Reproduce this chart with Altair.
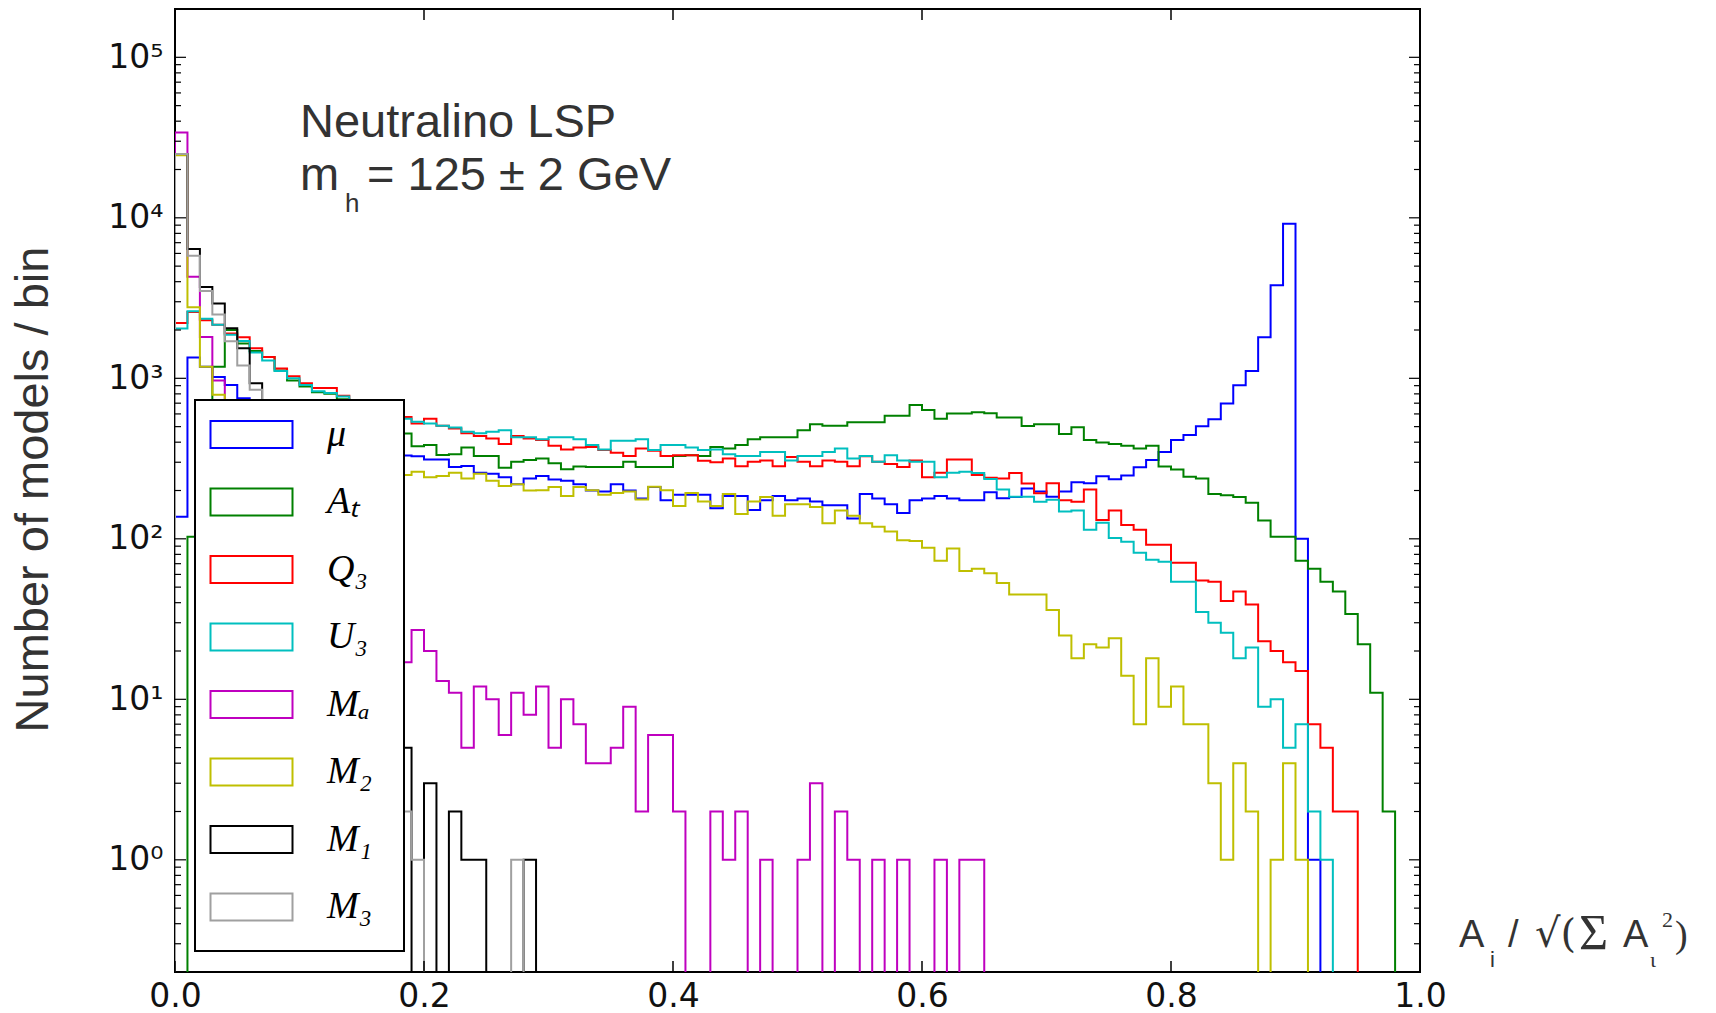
import altair as alt
import pandas as pd

# ---------------- data ----------------
series_names = ["μ", "Aₜ", "Q₃", "U₃", "Mₐ", "M₂", "M₁", "M₃"]
series_colors = ["#0000ff", "#008000", "#ff0000", "#00bfbf",
                 "#bf00bf", "#bfbf00", "#000000", "#a0a0a0"]

n_bins = 100
bin_width = 0.01

mu = [137, 1350, 1180, 1020, 910, 750, 680, 620, 570, 530,
      500, 470, 450, 430, 410, 390, 370, 350, 330, 327,
      312, 312, 280, 284, 258, 254, 242, 219, 238, 246,
      234, 230, 219, 200, 197, 219, 200, 178, 210, 174,
      188, 188, 188, 155, 185, 185, 151, 174, 185, 174,
      178, 171, 162, 162, 134, 190, 178, 164, 145, 174,
      178, 185, 178, 174, 174, 195, 179, 182, 206, 197,
      183, 197, 225, 222, 245, 235, 248, 279, 310, 348,
      412, 443, 503, 555, 697, 905, 1110, 1800, 3800, 9200,
      100, 1, 0, 0, 0, 0, 0, 0, 0, 0]

a_t = [0, 103, 500, 1180, 2000, 1650, 1480, 1360, 1120, 970,
       890, 820, 800, 740, 680, 620, 560, 500, 453, 378,
       384, 333, 336, 371, 328, 328, 277, 302, 310, 317,
       296, 271, 282, 280, 280, 280, 302, 280, 280, 280,
       328, 332, 328, 373, 366, 384, 417, 429, 429, 429,
       475, 518, 506, 506, 533, 533, 533, 585, 585, 682,
       634, 560, 603, 603, 615, 605, 570, 570, 505, 518,
       518, 450, 496, 412, 398, 390, 380, 366, 380, 282,
       270, 244, 238, 190, 187, 182, 168, 130, 103, 103,
       73, 65, 54, 47, 34, 22, 11, 2, 0, 0]

q_3 = [2210, 2590, 2300, 2160, 1900, 1800, 1540, 1360, 1150, 1030,
       930, 870, 870, 780, 720, 680, 640, 610, 575, 523,
       560, 506, 487, 454, 437, 422, 390, 437, 422, 412,
       380, 360, 370, 373, 357, 344, 328, 366, 354, 328,
       332, 332, 306, 300, 317, 283, 302, 308, 283, 323,
       302, 283, 308, 302, 283, 327, 302, 292, 280, 308,
       242, 258, 312, 312, 250, 240, 238, 257, 221, 192,
       222, 174, 170, 203, 131, 150, 122, 114, 92, 92,
       71, 71, 55, 54, 41, 47, 39, 23, 20, 17,
       15, 7, 5, 2, 2, 0, 0, 0, 0, 0]

u_3 = [2040, 2620, 2350, 2160, 1870, 1710, 1450, 1290, 1110, 1000,
       910, 830, 810, 770, 720, 670, 630, 590, 560, 537,
       523, 506, 494, 465, 454, 465, 475, 429, 429, 417,
       429, 429, 417, 384, 360, 408, 408, 417, 357, 384,
       384, 370, 357, 360, 336, 328, 328, 347, 347, 308,
       328, 328, 347, 366, 317, 328, 302, 332, 308, 302,
       302, 242, 258, 262, 257, 236, 203, 183, 183, 170,
       175, 148, 150, 114, 126, 101, 96, 82, 74, 72,
       54, 54, 35, 30, 26, 18, 21, 9, 10, 5,
       7, 2, 1, 0, 0, 0, 0, 0, 0, 0]

m_a = [34000, 4300, 1810, 970, 600, 380, 250, 170, 120, 90,
       70, 55, 45, 38, 32, 27, 22, 19, 17, 27,
       20, 13, 11, 5, 12, 10, 6, 11, 8, 12,
       5, 10, 7, 4, 4, 5, 9, 2, 6, 6,
       2, 0, 0, 2, 1, 2, 0, 1, 0, 0,
       1, 3, 0, 2, 1, 0, 1, 0, 1, 0,
       0, 1, 0, 1, 1, 0, 0, 0, 0, 0,
       0, 0, 0, 0, 0, 0, 0, 0, 0, 0,
       0, 0, 0, 0, 0, 0, 0, 0, 0, 0,
       0, 0, 0, 0, 0, 0, 0, 0, 0, 0]

m_2 = [24500, 2770, 1180, 790, 650, 560, 500, 450, 420, 390,
       360, 340, 320, 300, 290, 280, 270, 260, 250, 262,
       242, 246, 258, 238, 254, 230, 213, 219, 200, 201,
       210, 185, 210, 201, 188, 193, 197, 176, 211, 201,
       160, 193, 171, 160, 190, 143, 171, 182, 139, 164,
       164, 158, 125, 150, 139, 125, 119, 111, 98, 97,
       88, 73, 87, 63, 65, 61, 53, 45, 45, 45,
       36, 25, 18, 22, 21, 24, 14, 7, 18, 9,
       12, 7, 7, 3, 1, 4, 2, 0, 1, 4,
       1, 0, 0, 0, 0, 0, 0, 0, 0, 0]

m_1 = [25000, 6400, 3700, 2920, 2050, 1540, 930, 600, 400, 250,
       160, 100, 70, 45, 30, 20, 13, 8, 5, 0,
       3, 0, 2, 1, 1, 0, 0, 0, 1, 0,
       0, 0, 0, 0, 0, 0, 0, 0, 0, 0,
       0, 0, 0, 0, 0, 0, 0, 0, 0, 0,
       0, 0, 0, 0, 0, 0, 0, 0, 0, 0,
       0, 0, 0, 0, 0, 0, 0, 0, 0, 0,
       0, 0, 0, 0, 0, 0, 0, 0, 0, 0,
       0, 0, 0, 0, 0, 0, 0, 0, 0, 0,
       0, 0, 0, 0, 0, 0, 0, 0, 0, 0]

m_3 = [25000, 5800, 3500, 2500, 1700, 1200, 850, 550, 350, 220,
       140, 90, 55, 35, 22, 14, 9, 5, 2, 1,
       0, 0, 0, 0, 0, 0, 0, 1, 0, 0,
       0, 0, 0, 0, 0, 0, 0, 0, 0, 0,
       0, 0, 0, 0, 0, 0, 0, 0, 0, 0,
       0, 0, 0, 0, 0, 0, 0, 0, 0, 0,
       0, 0, 0, 0, 0, 0, 0, 0, 0, 0,
       0, 0, 0, 0, 0, 0, 0, 0, 0, 0,
       0, 0, 0, 0, 0, 0, 0, 0, 0, 0,
       0, 0, 0, 0, 0, 0, 0, 0, 0, 0]

all_counts = [mu, a_t, q_3, u_3, m_a, m_2, m_1, m_3]

x_tick_values = [0.0, 0.2, 0.4, 0.6, 0.8, 1.0]
y_tick_values = [1, 10, 100, 1000, 10000, 100000]

annot_line1 = "Neutralino LSP"
annot_m = "m"
annot_h = "h"
annot_rest = "= 125 ± 2 GeV"
y_title = "Number of models / bin"

# ---------------- build step outlines (matplotlib histtype='step') ----------------
FLOOR = 0.01  # stands in for empty bins on the log axis (below the domain, clipped)
edges = [round(i * bin_width, 2) for i in range(n_bins + 1)]
rows = []
for name, counts in zip(series_names, all_counts):
    k = 0
    rows.append({"series": name, "k": k, "x": edges[0], "y": FLOOR}); k += 1
    for i, c in enumerate(counts):
        v = c if c > 0 else FLOOR
        rows.append({"series": name, "k": k, "x": edges[i], "y": v}); k += 1
        rows.append({"series": name, "k": k, "x": edges[i + 1], "y": v}); k += 1
    rows.append({"series": name, "k": k, "x": edges[-1], "y": FLOOR})
df = pd.DataFrame(rows)

W, H = 1245, 963
xscale = alt.Scale(domain=[0, 1], nice=False, zero=False)
yscale = alt.Scale(type="log", domain=[0.2, 200000], nice=False)

sup = "['⁰','¹','²','³','⁴','⁵'][round(log(datum.value)/LN10)]"

lines = alt.Chart(df).mark_line(clip=True, strokeWidth=2).encode(
    x=alt.X("x:Q", scale=xscale,
            axis=alt.Axis(values=x_tick_values, format=".1f", ticks=False, domain=False,
                          grid=False, labelFont="DejaVu Sans", labelFontSize=33,
                          labelColor="#111111", labelPadding=8, labelFlush=False,
                          title=None)),
    y=alt.Y("y:Q", scale=yscale,
            axis=alt.Axis(values=y_tick_values, labelExpr="'10' + " + sup, ticks=False,
                          domain=False, grid=False, labelFont="DejaVu Sans",
                          labelFontSize=33, labelColor="#111111", labelPadding=12,
                          title=y_title, titleFont="Liberation Sans", titleFontSize=47,
                          titleFontWeight="normal", titleColor="#333333",
                          titleAngle=270, titleX=-142, titleY=480,
                          titleAlign="center", titleBaseline="middle")),
    color=alt.Color("series:N",
                    scale=alt.Scale(domain=series_names, range=series_colors),
                    legend=alt.Legend(title="\u00a0", titleOrient="bottom",
                                      titleFontSize=6, titlePadding=6,
                                      orient="none", legendX=20, legendY=391,
                                      symbolType="M-2,-0.66H2V0.66H-2Z", symbolSize=1681,
                                      symbolStrokeWidth=2, symbolOpacity=1,
                                      symbolOffset=22,
                                      labelFont="Liberation Serif", labelFontStyle="italic",
                                      labelFontSize=38, labelColor="black", labelOffset=54,
                                      labelExpr="datum.label + '\u00a0\u00a0\u200b'",
                                      rowPadding=26.5, padding=13,
                                      fillColor="white", strokeColor="black")),
    order=alt.Order("k:Q"),
)

# inward ticks (matplotlib style); same field names so the axes merge with the main layer
xt = pd.DataFrame({"x": x_tick_values})
y_major = pd.DataFrame({"y": y_tick_values})
minor_vals = []
for dec in [0.1, 1, 10, 100, 1000, 10000, 100000]:
    for m in range(2, 10):
        val = m * dec
        if 0.2 <= val <= 200000:
            minor_vals.append(val)
y_minor = pd.DataFrame({"y": minor_vals})

def xtick(y0, y1):
    return alt.Chart(xt).mark_rule(color="black", strokeWidth=1.5).encode(
        x=alt.X("x:Q", scale=xscale), y=alt.value(y0), y2=alt.value(y1))

def ytick(data, x0, x1):
    return alt.Chart(data).mark_rule(color="black", strokeWidth=1.2).encode(
        y=alt.Y("y:Q", scale=yscale), x=alt.value(x0), x2=alt.value(x1))

ticks = [
    xtick(H, H - 11), xtick(0, 11),
    ytick(y_major, 0, 11), ytick(y_major, W, W - 11),
    ytick(y_minor, 0, 6), ytick(y_minor, W, W - 6),
]

one = pd.DataFrame({"a": [0]})

def txt(s, x, y, size, font="Liberation Sans", color="#333333", style="normal"):
    return alt.Chart(one).mark_text(text=s, align="left", baseline="alphabetic",
                                    font=font, fontSize=size, color=color,
                                    fontStyle=style).encode(x=alt.value(x), y=alt.value(y))

texts = [
    txt(annot_line1, 125, 128, 47),
    txt(annot_m, 125, 181, 47),
    txt(annot_h, 170, 203, 26),
    txt(annot_rest, 192, 181, 47),
    # x-axis label  A_i / sqrt(sum A_iota^2)
    txt("A", 1284, 938, 38),
    txt("i", 1315, 958, 22),
    txt("/", 1333, 938, 38),
    txt("√(", 1360, 938, 40, font="DejaVu Serif"),
    txt("Σ", 1404, 940, 50, font="Liberation Serif"),
    txt("A", 1448, 938, 38),
    txt("ι", 1475, 958, 22, font="Liberation Serif"),
    txt("2", 1487, 918, 22, font="Liberation Serif"),
    txt(")", 1500, 938, 38, font="Liberation Serif"),
]

chart = alt.layer(lines, *ticks, *texts).properties(
    width=W, height=H,
    padding={"left": 175, "top": 9, "right": 296, "bottom": 41},
    autosize=alt.AutoSizeParams(type="none"),
    background="white",
).configure_view(stroke="black", strokeWidth=2).configure_legend(strokeWidth=2)

chart.save("out.html", embed_options={"renderer": "svg", "actions": False})
